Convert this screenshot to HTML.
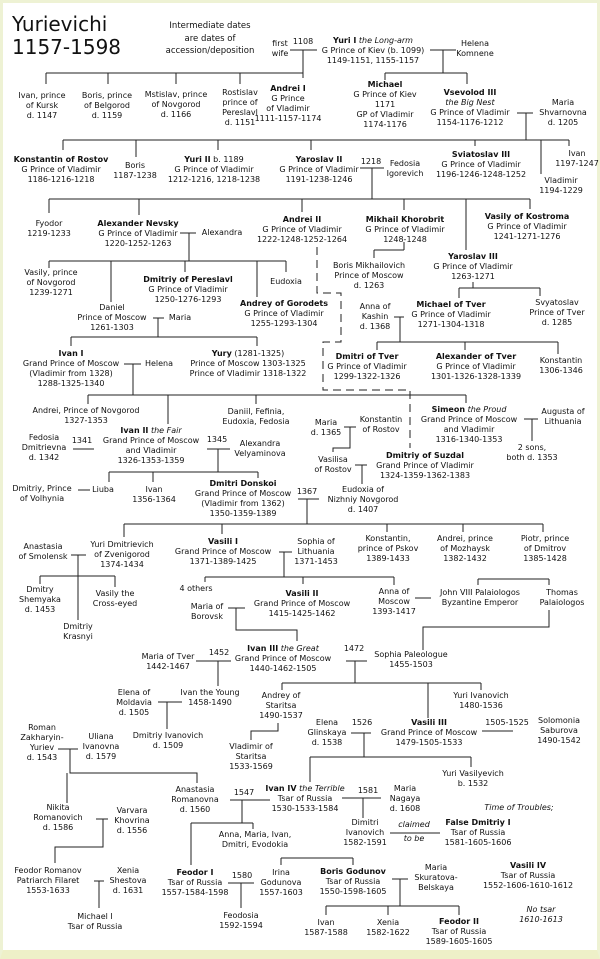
<!DOCTYPE html>
<html><head><meta charset="utf-8"><style>
html,body{margin:0;padding:0;}
body{width:600px;height:959px;position:relative;overflow:hidden;background:#fff;font-family:"DejaVu Sans","Liberation Sans",sans-serif;font-size:8px;line-height:10px;color:#111;}
.frame{position:absolute;left:0;top:0;width:600px;height:959px;box-sizing:border-box;border:3px solid #eef2d4;border-bottom:9px solid #eef0c8;}
.n{position:absolute;transform:translateX(-50%);text-align:center;white-space:nowrap;}
.l{position:absolute;white-space:nowrap;}
b{font-weight:bold;}
svg{position:absolute;left:0;top:0;}
</style></head><body>
<div class="frame"></div>
<svg width="600" height="959" viewBox="0 0 600 959" fill="none" stroke="#222" stroke-width="1.2" shape-rendering="crispEdges">
<!-- top -->
<path d="M290 50H317M303 50V78M430 50H456M443 50V73M385 73H467M385 73V80M467 73V84"/>
<path d="M46 73H303M46 73V84M108 73V84M176 73V84M240 73V84"/>
<path d="M517 113H533M526 113V140"/>
<path d="M63 140H569M63 140V150M136 140V157M218 140V150M311 140V150M475 140V146M541 140V174M569 140V146"/>
<path d="M360 168H384M372 168V199"/>
<path d="M49 199H530M49 199V213M139 199V215M302 199V212M404 199V210M466 199V250M530 199V209"/>
<path d="M180 233H196M189 233V261M49 261H286M49 261V268M111 261V302M185 261V272M257 261V297M286 261V272"/>
<path d="M404 242V250M374 250H404M374 250V258"/>
<path d="M473 282V288M459 288H540M459 288V298M540 288V296"/>
<path d="M394 317H404M400 317V342M377 342H558M377 342V350M465 342V350M558 342V354"/>
<path d="M153 318H164M158 318V337M71 337H257M71 337V346M257 337V346"/>
<path stroke-dasharray="8,5" d="M317 247V293H341V342H323V390H410V448"/>
<path d="M124 364H141M133 364V395M88 395H466M88 395V404M168 395V424M256 395V404M466 395V403"/>
<path d="M73 449H94M207 449H230M218 449V472M109 472H258M109 472V482M153 472V482M258 472V478"/>
<path d="M344 427H356M350 427V448H333V452M355 465H367M362 465V484"/>
<path d="M524 419H538M532 419V441"/>
<path d="M78 490H90M298 499H319M307 499V524M124 524H543M124 524V537M222 524V534M387 524V532M463 524V532M543 524V532"/>
<path d="M71 555H86M78 555V620M40 576H115M40 576V584M115 576V587"/>
<path d="M279 552H292M284 552V577M205 577H394M205 577V582M303 577V584M394 577V585"/>
<path d="M228 608H245M236 608V630H297V641"/>
<path d="M415 598H431M478 579H549M478 579V585M549 579V585M549 610V627H423V650"/>
<path d="M196 661H231M218 661V686M346 661H367M355 661V683M282 683H481M282 683V690M428 683V718M481 683V690"/>
<path d="M158 702H182M167 702V729M278 723V731H251V740"/>
<path d="M351 733H371M482 731H513M364 733V757M310 757H471M310 757V782M471 757V767"/>
<path d="M58 749H78M70 749V773H197V783M67 773V803"/>
<path d="M230 800H270M242 800V823M191 823H253M191 823V865M253 823V829"/>
<path d="M342 798H381M363 798V818M390 833H440"/>
<path d="M96 819H108M103 819V847H55V863"/>
<path d="M94 881H104M99 881V908M228 883H254M241 883V908"/>
<path d="M281 858H353M281 858V865M353 858V865M392 879H408M400 879V906M326 906H459M326 906V915M388 906V915M459 906V915"/>
</svg>

<div class="l" style="left:12px;top:13px;font-size:20px;line-height:23px;">Yurievichi<br>1157-1598</div>
<div class="n" style="left:210px;top:20px;font-size:8.5px;line-height:12.5px;">Intermediate dates<br>are dates of<br>accession/deposition</div>
<div class="n" style="left:280px;top:39px;">first<br>wife</div>
<div class="n" style="left:303px;top:37px;">1108</div>
<div class="n" style="left:373px;top:36px;"><b>Yuri I</b> <i>the Long-arm</i><br>G Prince of Kiev (b. 1099)<br>1149-1151, 1155-1157</div>
<div class="n" style="left:475px;top:39px;">Helena<br>Komnene</div>
<div class="n" style="left:42px;top:91px;">Ivan, prince<br>of Kursk<br>d. 1147</div>
<div class="n" style="left:107px;top:91px;">Boris, prince<br>of Belgorod<br>d. 1159</div>
<div class="n" style="left:176px;top:90px;">Mstislav, prince<br>of Novgorod<br>d. 1166</div>
<div class="n" style="left:240px;top:88px;">Rostislav<br>prince of<br>Pereslavl<br>d. 1151</div>
<div class="n" style="left:288px;top:84px;"><b>Andrei I</b><br>G Prince<br>of Vladimir<br>1111-1157-1174</div>
<div class="n" style="left:385px;top:80px;"><b>Michael</b><br>G Prince of Kiev<br>1171<br>GP of Vladimir<br>1174-1176</div>
<div class="n" style="left:470px;top:88px;"><b>Vsevolod III</b><br><i>the Big Nest</i><br>G Prince of Vladimir<br>1154-1176-1212</div>
<div class="n" style="left:563px;top:98px;">Maria<br>Shvarnovna<br>d. 1205</div>

<div class="n" style="left:61px;top:155px;"><b>Konstantin of Rostov</b><br>G Prince of Vladimir<br>1186-1216-1218</div>
<div class="n" style="left:135px;top:161px;">Boris<br>1187-1238</div>
<div class="n" style="left:214px;top:155px;"><b>Yuri II</b> b. 1189<br>G Prince of Vladimir<br>1212-1216, 1218-1238</div>
<div class="n" style="left:319px;top:155px;"><b>Yaroslav II</b><br>G Prince of Vladimir<br>1191-1238-1246</div>
<div class="n" style="left:371px;top:157px;">1218</div>
<div class="n" style="left:405px;top:159px;">Fedosia<br>Igorevich</div>
<div class="n" style="left:481px;top:150px;"><b>Sviatoslav III</b><br>G Prince of Vladimir<br>1196-1246-1248-1252</div>
<div class="n" style="left:577px;top:149px;">Ivan<br>1197-1247</div>
<div class="n" style="left:561px;top:176px;">Vladimir<br>1194-1229</div>

<div class="n" style="left:49px;top:219px;">Fyodor<br>1219-1233</div>
<div class="n" style="left:138px;top:219px;"><b>Alexander Nevsky</b><br>G Prince of Vladimir<br>1220-1252-1263</div>
<div class="n" style="left:222px;top:228px;">Alexandra</div>
<div class="n" style="left:302px;top:215px;"><b>Andrei II</b><br>G Prince of Vladimir<br>1222-1248-1252-1264</div>
<div class="n" style="left:405px;top:215px;"><b>Mikhail Khorobrit</b><br>G Prince of Vladimir<br>1248-1248</div>
<div class="n" style="left:527px;top:212px;"><b>Vasily of Kostroma</b><br>G Prince of Vladimir<br>1241-1271-1276</div>
<div class="n" style="left:369px;top:261px;">Boris Mikhailovich<br>Prince of Moscow<br>d. 1263</div>
<div class="n" style="left:473px;top:252px;"><b>Yaroslav III</b><br>G Prince of Vladimir<br>1263-1271</div>
<div class="n" style="left:51px;top:268px;">Vasily, prince<br>of Novgorod<br>1239-1271</div>
<div class="n" style="left:188px;top:275px;"><b>Dmitriy of Pereslavl</b><br>G Prince of Vladimir<br>1250-1276-1293</div>
<div class="n" style="left:286px;top:277px;">Eudoxia</div>
<div class="n" style="left:112px;top:303px;">Daniel<br>Prince of Moscow<br>1261-1303</div>
<div class="n" style="left:180px;top:313px;">Maria</div>
<div class="n" style="left:284px;top:299px;"><b>Andrey of Gorodets</b><br>G Prince of Vladimir<br>1255-1293-1304</div>
<div class="n" style="left:375px;top:302px;">Anna of<br>Kashin<br>d. 1368</div>
<div class="n" style="left:451px;top:300px;"><b>Michael of Tver</b><br>G Prince of Vladimir<br>1271-1304-1318</div>
<div class="n" style="left:557px;top:298px;">Svyatoslav<br>Prince of Tver<br>d. 1285</div>

<div class="n" style="left:71px;top:349px;"><b>Ivan I</b><br>Grand Prince of Moscow<br>(Vladimir from 1328)<br>1288-1325-1340</div>
<div class="n" style="left:159px;top:359px;">Helena</div>
<div class="n" style="left:248px;top:349px;"><b>Yury</b> (1281-1325)<br>Prince of Moscow 1303-1325<br>Prince of Vladimir 1318-1322</div>
<div class="n" style="left:367px;top:352px;"><b>Dmitri of Tver</b><br>G Prince of Vladimir<br>1299-1322-1326</div>
<div class="n" style="left:476px;top:352px;"><b>Alexander of Tver</b><br>G Prince of Vladimir<br>1301-1326-1328-1339</div>
<div class="n" style="left:561px;top:356px;">Konstantin<br>1306-1346</div>

<div class="n" style="left:86px;top:406px;">Andrei, Prince of Novgorod<br>1327-1353</div>
<div class="n" style="left:256px;top:407px;">Daniil, Fefinia,<br>Eudoxia, Fedosia</div>
<div class="n" style="left:326px;top:418px;">Maria<br>d. 1365</div>
<div class="n" style="left:381px;top:415px;">Konstantin<br>of Rostov</div>
<div class="n" style="left:469px;top:405px;"><b>Simeon</b> <i>the Proud</i><br>Grand Prince of Moscow<br>and Vladimir<br>1316-1340-1353</div>
<div class="n" style="left:563px;top:407px;">Augusta of<br>Lithuania</div>
<div class="n" style="left:532px;top:443px;">2 sons,<br>both d. 1353</div>
<div class="n" style="left:151px;top:426px;"><b>Ivan II</b> <i>the Fair</i><br>Grand Prince of Moscow<br>and Vladimir<br>1326-1353-1359</div>
<div class="n" style="left:44px;top:433px;">Fedosia<br>Dmitrievna<br>d. 1342</div>
<div class="n" style="left:82px;top:436px;">1341</div>
<div class="n" style="left:217px;top:435px;">1345</div>
<div class="n" style="left:260px;top:439px;">Alexandra<br>Velyaminova</div>
<div class="n" style="left:333px;top:455px;">Vasilisa<br>of Rostov</div>
<div class="n" style="left:425px;top:451px;"><b>Dmitriy of Suzdal</b><br>Grand Prince of Vladimir<br>1324-1359-1362-1383</div>
<div class="n" style="left:42px;top:484px;">Dmitriy, Prince<br>of Volhynia</div>
<div class="n" style="left:103px;top:485px;">Liuba</div>
<div class="n" style="left:154px;top:485px;">Ivan<br>1356-1364</div>
<div class="n" style="left:243px;top:479px;"><b>Dmitri Donskoi</b><br>Grand Prince of Moscow<br>(Vladimir from 1362)<br>1350-1359-1389</div>
<div class="n" style="left:307px;top:487px;">1367</div>
<div class="n" style="left:363px;top:485px;">Eudoxia of<br>Nizhniy Novgorod<br>d. 1407</div>

<div class="n" style="left:43px;top:542px;">Anastasia<br>of Smolensk</div>
<div class="n" style="left:122px;top:540px;">Yuri Dmitrievich<br>of Zvenigorod<br>1374-1434</div>
<div class="n" style="left:223px;top:537px;"><b>Vasili I</b><br>Grand Prince of Moscow<br>1371-1389-1425</div>
<div class="n" style="left:316px;top:537px;">Sophia of<br>Lithuania<br>1371-1453</div>
<div class="n" style="left:388px;top:534px;">Konstantin,<br>prince of Pskov<br>1389-1433</div>
<div class="n" style="left:465px;top:534px;">Andrei, prince<br>of Mozhaysk<br>1382-1432</div>
<div class="n" style="left:545px;top:534px;">Piotr, prince<br>of Dmitrov<br>1385-1428</div>
<div class="n" style="left:40px;top:585px;">Dmitry<br>Shemyaka<br>d. 1453</div>
<div class="n" style="left:115px;top:589px;">Vasily the<br>Cross-eyed</div>
<div class="n" style="left:78px;top:622px;">Dmitriy<br>Krasnyi</div>
<div class="n" style="left:196px;top:584px;">4 others</div>
<div class="n" style="left:207px;top:602px;">Maria of<br>Borovsk</div>
<div class="n" style="left:302px;top:589px;"><b>Vasili II</b><br>Grand Prince of Moscow<br>1415-1425-1462</div>
<div class="n" style="left:394px;top:587px;">Anna of<br>Moscow<br>1393-1417</div>
<div class="n" style="left:480px;top:588px;">John VIII Palaiologos<br>Byzantine Emperor</div>
<div class="n" style="left:562px;top:588px;">Thomas<br>Palaiologos</div>

<div class="n" style="left:168px;top:652px;">Maria of Tver<br>1442-1467</div>
<div class="n" style="left:219px;top:648px;">1452</div>
<div class="n" style="left:283px;top:644px;"><b>Ivan III</b> <i>the Great</i><br>Grand Prince of Moscow<br>1440-1462-1505</div>
<div class="n" style="left:354px;top:644px;">1472</div>
<div class="n" style="left:411px;top:650px;">Sophia Paleologue<br>1455-1503</div>
<div class="n" style="left:134px;top:688px;">Elena of<br>Moldavia<br>d. 1505</div>
<div class="n" style="left:210px;top:688px;">Ivan the Young<br>1458-1490</div>
<div class="n" style="left:281px;top:691px;">Andrey of<br>Staritsa<br>1490-1537</div>
<div class="n" style="left:481px;top:691px;">Yuri Ivanovich<br>1480-1536</div>
<div class="n" style="left:327px;top:718px;">Elena<br>Glinskaya<br>d. 1538</div>
<div class="n" style="left:362px;top:718px;">1526</div>
<div class="n" style="left:429px;top:718px;"><b>Vasili III</b><br>Grand Prince of Moscow<br>1479-1505-1533</div>
<div class="n" style="left:507px;top:718px;">1505-1525</div>
<div class="n" style="left:559px;top:716px;">Solomonia<br>Saburova<br>1490-1542</div>
<div class="n" style="left:42px;top:723px;">Roman<br>Zakharyin-<br>Yuriev<br>d. 1543</div>
<div class="n" style="left:101px;top:732px;">Uliana<br>Ivanovna<br>d. 1579</div>
<div class="n" style="left:168px;top:731px;">Dmitriy Ivanovich<br>d. 1509</div>
<div class="n" style="left:251px;top:742px;">Vladimir of<br>Staritsa<br>1533-1569</div>
<div class="n" style="left:473px;top:769px;">Yuri Vasilyevich<br>b. 1532</div>

<div class="n" style="left:195px;top:785px;">Anastasia<br>Romanovna<br>d. 1560</div>
<div class="n" style="left:244px;top:788px;">1547</div>
<div class="n" style="left:305px;top:784px;"><b>Ivan IV</b> <i>the Terrible</i><br>Tsar of Russia<br>1530-1533-1584</div>
<div class="n" style="left:368px;top:786px;">1581</div>
<div class="n" style="left:405px;top:784px;">Maria<br>Nagaya<br>d. 1608</div>
<div class="n" style="left:519px;top:803px;"><i>Time of Troubles;</i></div>
<div class="n" style="left:58px;top:803px;">Nikita<br>Romanovich<br>d. 1586</div>
<div class="n" style="left:132px;top:806px;">Varvara<br>Khovrina<br>d. 1556</div>
<div class="n" style="left:255px;top:830px;">Anna, Maria, Ivan,<br>Dmitri, Evodokia</div>
<div class="n" style="left:365px;top:818px;">Dimitri<br>Ivanovich<br>1582-1591</div>
<div class="n" style="left:414px;top:820px;"><i>claimed</i></div>
<div class="n" style="left:414px;top:834px;"><i>to be</i></div>
<div class="n" style="left:478px;top:818px;"><b>False Dmitriy I</b><br>Tsar of Russia<br>1581-1605-1606</div>

<div class="n" style="left:48px;top:866px;">Feodor Romanov<br>Patriarch Filaret<br>1553-1633</div>
<div class="n" style="left:128px;top:866px;">Xenia<br>Shestova<br>d. 1631</div>
<div class="n" style="left:195px;top:868px;"><b>Feodor I</b><br>Tsar of Russia<br>1557-1584-1598</div>
<div class="n" style="left:242px;top:871px;">1580</div>
<div class="n" style="left:281px;top:868px;">Irina<br>Godunova<br>1557-1603</div>
<div class="n" style="left:353px;top:867px;"><b>Boris Godunov</b><br>Tsar of Russia<br>1550-1598-1605</div>
<div class="n" style="left:436px;top:863px;">Maria<br>Skuratova-<br>Belskaya</div>
<div class="n" style="left:528px;top:861px;"><b>Vasili IV</b><br>Tsar of Russia<br>1552-1606-1610-1612</div>
<div class="n" style="left:541px;top:905px;"><i>No tsar<br>1610-1613</i></div>
<div class="n" style="left:95px;top:912px;">Michael I<br>Tsar of Russia</div>
<div class="n" style="left:241px;top:911px;">Feodosia<br>1592-1594</div>
<div class="n" style="left:326px;top:918px;">Ivan<br>1587-1588</div>
<div class="n" style="left:388px;top:918px;">Xenia<br>1582-1622</div>
<div class="n" style="left:459px;top:917px;"><b>Feodor II</b><br>Tsar of Russia<br>1589-1605-1605</div>
</body></html>
